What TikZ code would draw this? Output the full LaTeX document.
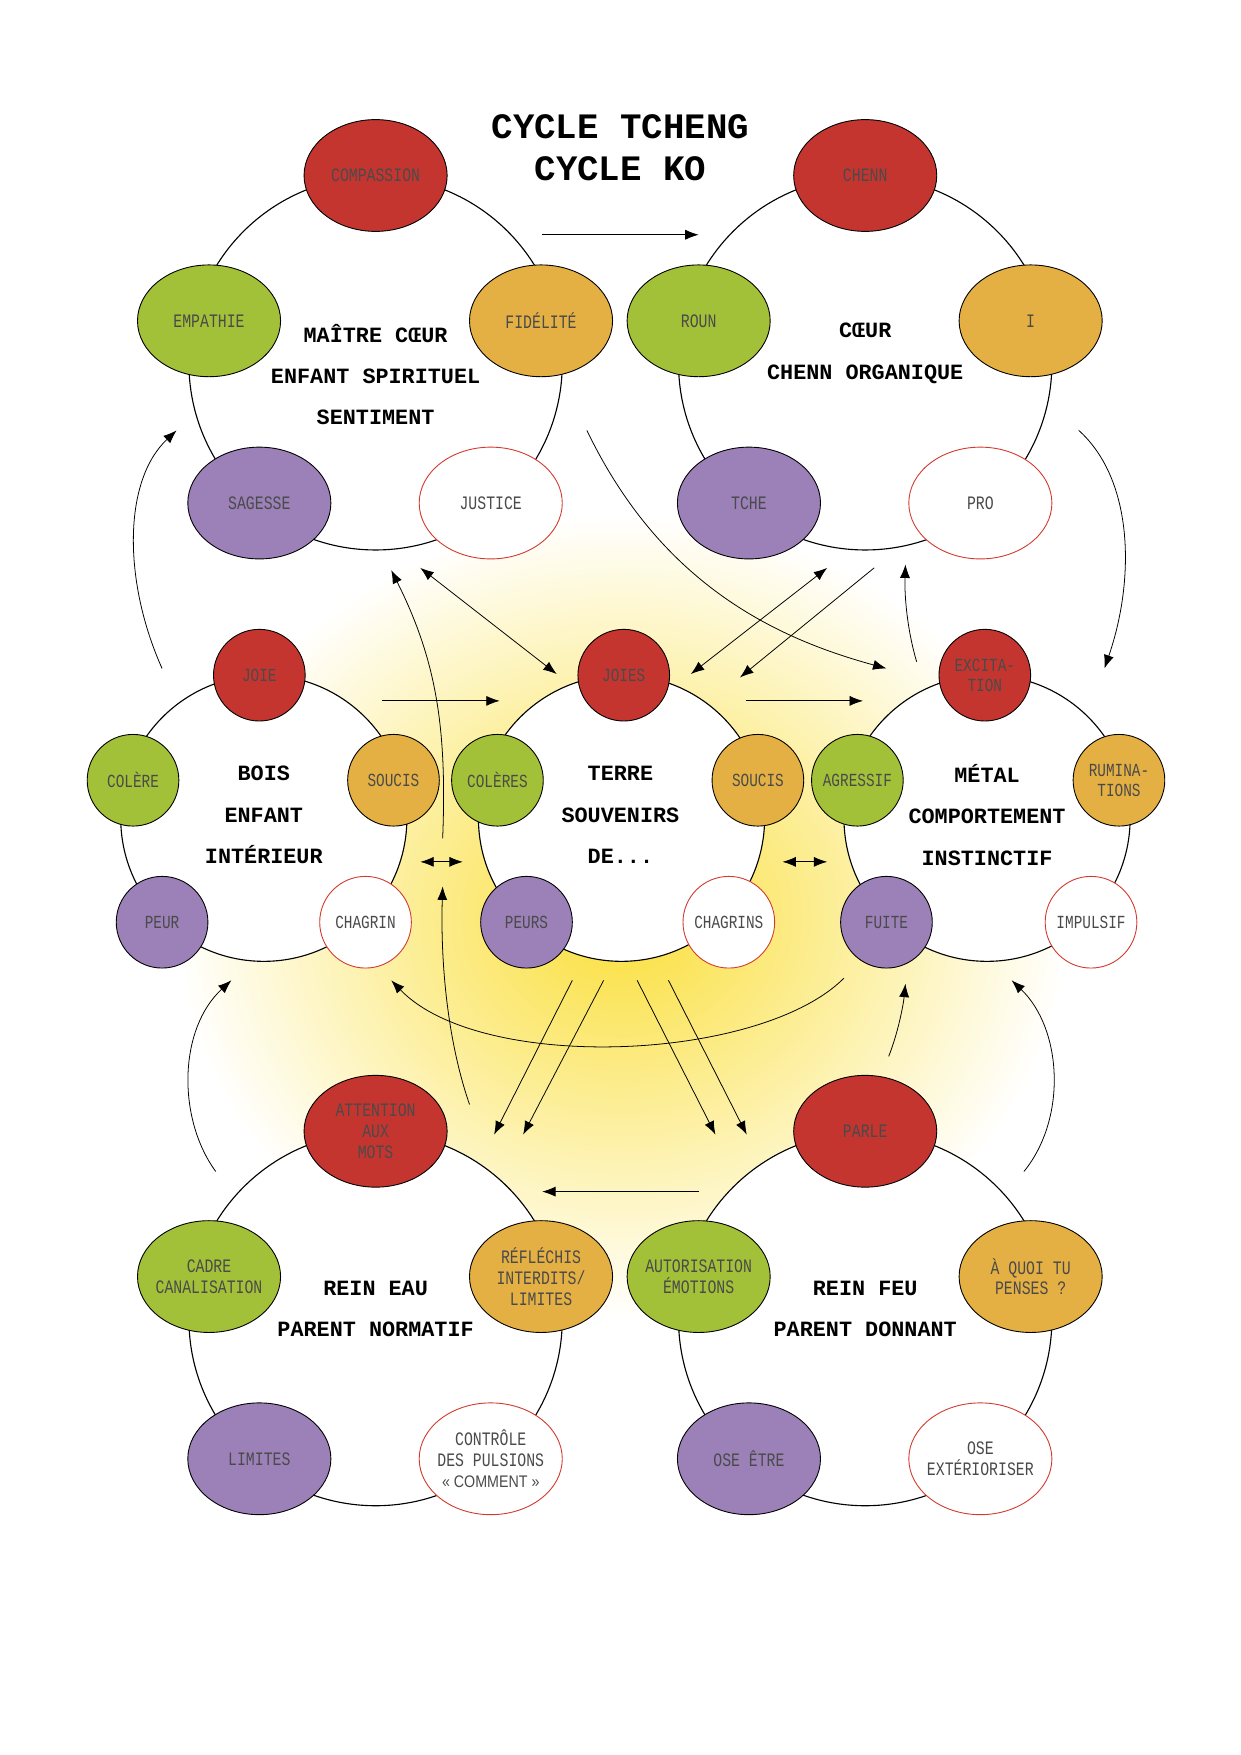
\documentclass[tikz,border=0pt]{standalone}
\usepackage{fontspec}
\setmainfont{Liberation Mono}
\newfontfamily\lab{Liberation Mono}[FakeStretch=0.78]
\newfontfamily\labs{Liberation Sans}[FakeStretch=0.85]
\usetikzlibrary{arrows.meta,shapes.geometric}
\definecolor{cR}{HTML}{C53530}
\definecolor{cG}{HTML}{A3C039}
\definecolor{cO}{HTML}{E5B043}
\definecolor{cP}{HTML}{9C80B8}
\definecolor{cW}{HTML}{D23A2E}
\definecolor{cT}{HTML}{4A4A4A}
\definecolor{cY}{HTML}{FADF3A}
\newcommand\EL[4]{\node[el,#1] (#2) at (#3) {}; \node[lb] (#2t) at (#2) {#4};}
\newcommand\CI[4]{\node[ci,#1] (#2) at (#3) {}; \node[lbs] (#2t) at (#2) {#4};}
\begin{document}
\begin{tikzpicture}[x=1pt,y=-1pt,
  el/.style={ellipse,draw=black,line width=0.8pt,minimum width=128pt,minimum height=100pt,inner sep=0pt},
  ci/.style={el,minimum width=82pt,minimum height=82pt},
  lb/.style={align=center,inner sep=0pt,text=cT,font=\lab\fontsize{17}{18.5}\selectfont},
  lbs/.style={lb,font=\lab\fontsize{16.5}{18}\selectfont},
  R/.style={fill=cR},G/.style={fill=cG},O/.style={fill=cO},P/.style={fill=cP},
  W/.style={fill=white,draw=cW},
  ring/.style={circle,draw=black,line width=1pt,fill=white,inner sep=0pt},
  ttl/.style={align=center,font=\bfseries\fontsize{19.5}{37}\selectfont},
  ar/.style={-{Latex[length=12pt,width=9pt]},line width=0.7pt},
  dar/.style={{Latex[length=12pt,width=9pt]}-{Latex[length=12pt,width=9pt]},line width=0.7pt}]
\useasboundingbox (0,0) rectangle (1110,1570);
\fill[white] (0,0) rectangle (1110,1570);
\shade[inner color=cY,outer color=white] (556,820) ellipse (400pt and 360pt);
\fill[white] (0,380) rectangle (100,1570);
\fill[white] (1020,380) rectangle (1110,1570);
% rings
\node[ring,minimum size=334pt] (rTL) at (336,325) {};
\node[ring,minimum size=334pt] (rTR) at (774,325) {};
\node[ring,minimum size=334pt] (rBL) at (336,1180) {};
\node[ring,minimum size=334pt] (rBR) at (774,1180) {};
\node[ring,minimum size=256pt] (rML) at (236,732) {};
\node[ring,minimum size=256pt] (rMM) at (556,732) {};
\node[ring,minimum size=256pt] (rMR) at (883,732) {};
% title
\node[font=\bfseries\fontsize{32}{38}\selectfont,align=center] (title) at (555,132) {CYCLE TCHENG\\CYCLE KO};
% TL
\EL{R}{a1}{336,157}{COMPASSION}
\EL{G}{a2}{187,287}{EMPATHIE}
\EL{O}{a3}{484,287}{FIDÉLITÉ}
\EL{P}{a4}{232,450}{SAGESSE}
\EL{W}{a5}{439,450}{JUSTICE}
\node[ttl] (ta) at (336,335) {MAÎTRE CŒUR\\ENFANT SPIRITUEL\\SENTIMENT};
% TR
\EL{R}{b1}{774,157}{CHENN}
\EL{G}{b2}{625,287}{ROUN}
\EL{O}{b3}{922,287}{I}
\EL{P}{b4}{670,450}{TCHE}
\EL{W}{b5}{877,450}{PRO}
\node[ttl] (tb) at (774,316) {CŒUR\\CHENN ORGANIQUE};
% BL
\EL{R}{c1}{336,1012}{ATTENTION\\AUX\\MOTS}
\EL{G}{c2}{187,1142}{CADRE\\CANALISATION}
\EL{O}{c3}{484,1142}{RÉFLÉCHIS\\INTERDITS/\\LIMITES}
\EL{P}{c4}{232,1305}{LIMITES}
\EL{W}{c5}{439,1305}{CONTRÔLE\\DES PULSIONS\\{\labs\fontsize{15}{18}\selectfont« COMMENT »}}
\node[ttl] (tc) at (336,1171) {REIN EAU\\PARENT NORMATIF};
% BR
\EL{R}{d1}{774,1012}{PARLE}
\EL{G}{d2}{625,1142}{AUTORISATION\\ÉMOTIONS}
\EL{O}{d3}{922,1142}{À QUOI TU\\PENSES ?}
\EL{P}{d4}{670,1305}{OSE ÊTRE}
\EL{W}{d5}{877,1305}{OSE\\EXTÉRIORISER}
\node[ttl] (td) at (774,1171) {REIN FEU\\PARENT DONNANT};
% middle left
\CI{R}{e1}{232,604}{JOIE}
\CI{G}{e2}{119,698}{COLÈRE}
\CI{O}{e3}{352,698}{SOUCIS}
\CI{P}{e4}{145,825}{PEUR}
\CI{W}{e5}{327,825}{CHAGRIN}
\node[ttl] (te) at (236,729) {BOIS\\ENFANT\\INTÉRIEUR};
% middle
\CI{R}{f1}{558,604}{JOIES}
\CI{G}{f2}{445,698}{COLÈRES}
\CI{O}{f3}{678,698}{SOUCIS}
\CI{P}{f4}{471,825}{PEURS}
\CI{W}{f5}{652,825}{CHAGRINS}
\node[ttl] (tf) at (555,729) {TERRE\\SOUVENIRS\\DE...};
% middle right
\CI{R}{g1}{881,604}{EXCITA-\\TION}
\CI{G}{g2}{767,698}{AGRESSIF}
\CI{O}{g3}{1001,698}{RUMINA-\\TIONS}
\CI{P}{g4}{793,825}{FUITE}
\CI{W}{g5}{976,825}{IMPULSIF}
\node[ttl] (tg) at (883,729) {MÉTAL\\COMPORTEMENT\\INSTINCTIF};
% arrow coordinates
\coordinate (p1) at (485,210); \coordinate (p2) at (625,210);
\coordinate (p3) at (625,1066); \coordinate (p4) at (485,1066);
\coordinate (p5) at (342,627); \coordinate (p6) at (447,627);
\coordinate (p7) at (667,627); \coordinate (p8) at (772,627);
\coordinate (q1) at (376,771); \coordinate (q2) at (414,771);
\coordinate (q3) at (700,771); \coordinate (q4) at (740,771);
\coordinate (s1) at (145,598); \coordinate (s2) at (158,385);
\coordinate (s3) at (965,385); \coordinate (s4) at (988,598);
\coordinate (s5) at (193,1048); \coordinate (s6) at (207,877);
\coordinate (s7) at (916,1048); \coordinate (s8) at (905,877);
\coordinate (s9) at (795,945); \coordinate (s10) at (810,880);
\coordinate (s11) at (820,592); \coordinate (s12) at (810,505);
\coordinate (u1) at (376,508); \coordinate (u2) at (498,603);
\coordinate (u3) at (740,508); \coordinate (u4) at (618,603);
\coordinate (u5) at (782,508); \coordinate (u6) at (662,606);
\coordinate (v1) at (396,750); \coordinate (v2) at (350,510);
\coordinate (v3) at (420,988); \coordinate (v4) at (396,793);
\coordinate (w1) at (525,385); \coordinate (w2) at (793,598);
\coordinate (w3) at (755,875); \coordinate (w4) at (350,877);
\coordinate (x1) at (512,877); \coordinate (x2) at (442,1015);
\coordinate (x3) at (540,877); \coordinate (x4) at (468,1015);
\coordinate (x5) at (570,877); \coordinate (x6) at (640,1015);
\coordinate (x7) at (598,877); \coordinate (x8) at (668,1015);
\draw[ar] (p1) -- (p2);
\draw[ar] (p3) -- (p4);
\draw[ar] (p5) -- (p6);
\draw[ar] (p7) -- (p8);
\draw[dar] (q1) -- (q2);
\draw[dar] (q3) -- (q4);
\draw[ar] (s1) .. controls (110,520) and (110,430) .. (s2);
\draw[ar] (s3) .. controls (1015,430) and (1015,520) .. (s4);
\draw[ar] (s5) .. controls (158,1000) and (160,920) .. (s6);
\draw[ar] (s7) .. controls (955,1000) and (950,920) .. (s8);
\draw[ar] (s9) .. controls (803,925) and (808,900) .. (s10);
\draw[ar] (s11) .. controls (812,565) and (809,535) .. (s12);
\draw[dar] (u1) -- (u2);
\draw[dar] (u3) -- (u4);
\draw[ar] (u5) -- (u6);
\draw[ar] (v1) .. controls (400,650) and (390,590) .. (v2);
\draw[ar] (v3) .. controls (400,930) and (394,860) .. (v4);
\draw[ar] (w1) .. controls (590,520) and (690,570) .. (w2);
\draw[ar] (w3) .. controls (680,950) and (430,960) .. (w4);
\draw[ar] (x1) -- (x2);
\draw[ar] (x3) -- (x4);
\draw[ar] (x5) -- (x6);
\draw[ar] (x7) -- (x8);
\end{tikzpicture}
\end{document}
